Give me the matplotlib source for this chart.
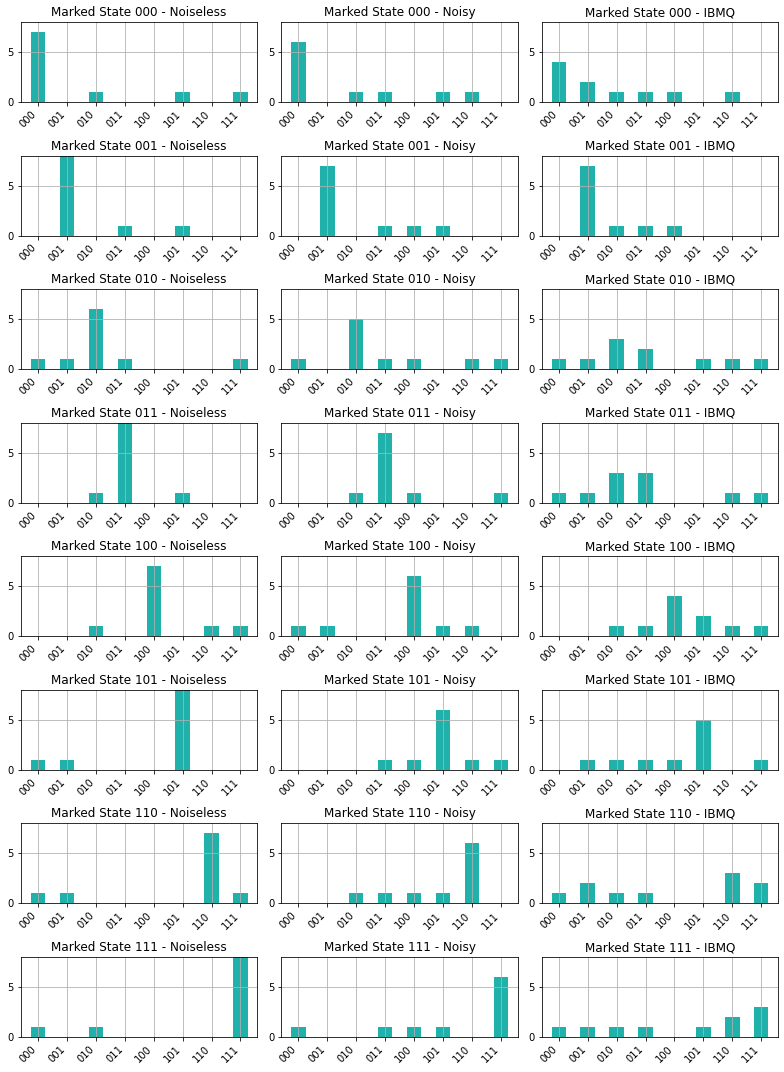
import matplotlib
matplotlib.use("Agg")
import matplotlib.pyplot as plt
import numpy as np

states = ["000", "001", "010", "011", "100", "101", "110", "111"]
backends = ["Noiseless", "Noisy", "IBMQ"]

noiseless = [
    [7, 0, 1, 0, 0, 1, 0, 1],
    [0, 8, 0, 1, 0, 1, 0, 0],
    [1, 1, 6, 1, 0, 0, 0, 1],
    [0, 0, 1, 8, 0, 1, 0, 0],
    [0, 0, 1, 0, 7, 0, 1, 1],
    [1, 1, 0, 0, 0, 8, 0, 0],
    [1, 1, 0, 0, 0, 0, 7, 1],
    [1, 0, 1, 0, 0, 0, 0, 8],
]
noisy = [
    [6, 0, 1, 1, 0, 1, 1, 0],
    [0, 7, 0, 1, 1, 1, 0, 0],
    [1, 0, 5, 1, 1, 0, 1, 1],
    [0, 0, 1, 7, 1, 0, 0, 1],
    [1, 1, 0, 0, 6, 1, 1, 0],
    [0, 0, 0, 1, 1, 6, 1, 1],
    [0, 0, 1, 1, 1, 1, 6, 0],
    [1, 0, 0, 1, 1, 1, 0, 6],
]
ibmq = [
    [4, 2, 1, 1, 1, 0, 1, 0],
    [0, 7, 1, 1, 1, 0, 0, 0],
    [1, 1, 3, 2, 0, 1, 1, 1],
    [1, 1, 3, 3, 0, 0, 1, 1],
    [0, 0, 1, 1, 4, 2, 1, 1],
    [0, 1, 1, 1, 1, 5, 0, 1],
    [1, 2, 1, 1, 0, 0, 3, 2],
    [1, 1, 1, 1, 0, 1, 2, 3],
]
results = [noiseless, noisy, ibmq]

dpi = 72
fig, axes = plt.subplots(8, 3, figsize=(784 / dpi, 1072 / dpi), dpi=dpi)
fig.subplots_adjust(left=21 / 784, right=778 / 784, top=1 - 22 / 1072,
                    bottom=1 - 1037 / 1072, wspace=0.102, hspace=0.67)

x = np.arange(len(states))
for r in range(8):
    for c in range(3):
        ax = axes[r, c]
        ax.bar(x, results[c][r], width=0.5, color="#20B2AA")
        ax.set_title(f"Marked State {states[r]} - {backends[c]}", fontsize=12)
        ax.set_xticks(x)
        ax.set_xticklabels(states, rotation=45, ha="right", fontsize=10)
        ax.set_yticks([0, 5])
        ax.tick_params(axis="y", labelsize=10)
        ax.set_ylim(0, 8)
        ax.set_xlim(-0.59, 7.58)
        ax.grid(True, color="#b0b0b0", linewidth=0.8)

fig.savefig("out.png", dpi=dpi)
